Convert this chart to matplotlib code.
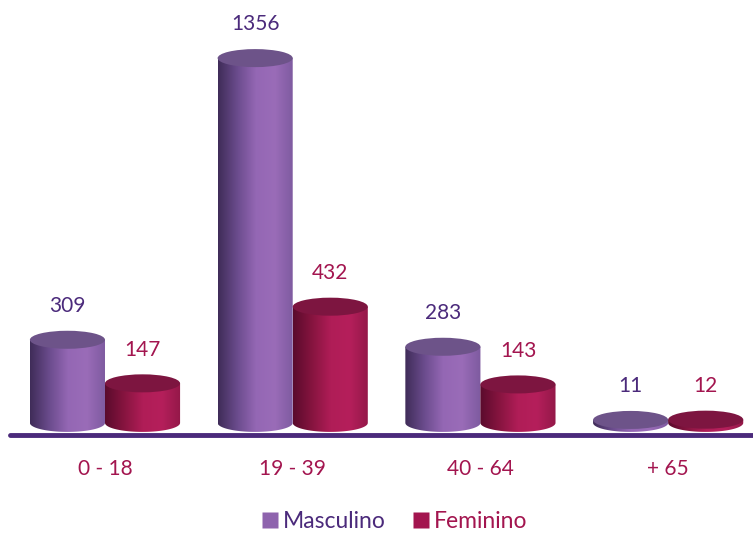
import numpy as np
import matplotlib.pyplot as plt
from matplotlib.patches import Ellipse, PathPatch
from matplotlib.path import Path
from matplotlib.colors import LinearSegmentedColormap
from matplotlib.lines import Line2D

categories = ["0 - 18", "19 - 39", "40 - 64", "+ 65"]
masculino = [309, 1356, 283, 11]
feminino = [147, 432, 143, 12]
series_names = ["Masculino", "Feminino"]

PURPLE_TXT = "#4b2a7b"
CRIMSON_TXT = "#a3154f"
purple_cmap = LinearSegmentedColormap.from_list(
    "p", ["#3f2c58", "#6a4b8c", "#9467b4", "#9a6cb8", "#7d5a9f"])
crimson_cmap = LinearSegmentedColormap.from_list(
    "c", ["#5a0b2c", "#86143f", "#b01d57", "#b51f5b", "#931848"])
top_colors = ["#6d5389", "#7d1540"]
side_cmaps = [purple_cmap, crimson_cmap]
txt_colors = [PURPLE_TXT, CRIMSON_TXT]

plt.rcParams["font.family"] = ["Lato", "DejaVu Sans"]

fig = plt.figure(figsize=(7.53, 5.34), dpi=100)
ax = fig.add_axes([10 / 753, 99 / 534, 743 / 753, 435 / 534])
ax.set_xlim(-0.506, 3.452)
ax.set_ylim(-45, 1572)

bw = 0.4
eh = 67  # ellipse height in data units (perspective)
grad = np.linspace(0, 1, 256).reshape(1, -1)

def cylinder(xc, h, cmap, top_color):
    x0, x1 = xc - bw / 2, xc + bw / 2
    t = np.linspace(np.pi, 2 * np.pi, 60)
    bottom = np.column_stack([xc + bw / 2 * np.cos(t), eh / 2 * np.sin(t)])
    verts = np.vstack([[x0, h], bottom, [x1, h], [x0, h]])
    codes = [Path.MOVETO] + [Path.LINETO] * (len(verts) - 2) + [Path.CLOSEPOLY]
    clip = PathPatch(Path(verts, codes), facecolor="none", edgecolor="none")
    ax.add_patch(clip)
    im = ax.imshow(grad, cmap=cmap, aspect="auto",
                   extent=[x0, x1, -eh / 2, h], zorder=2)
    im.set_clip_path(clip)
    ax.add_patch(Ellipse((xc, h), bw, eh, facecolor=top_color,
                         edgecolor="none", zorder=3))

x = np.arange(len(categories))
for s, values in enumerate([masculino, feminino]):
    for i, v in enumerate(values):
        xc = x[i] - bw / 2 + s * bw
        cylinder(xc, v, side_cmaps[s], top_colors[s])
        ax.text(xc, v + 125, str(v), ha="center", va="center",
                fontsize=15, color=txt_colors[s])

for side in ["top", "right", "left"]:
    ax.spines[side].set_visible(False)
ax.spines["bottom"].set_color(PURPLE_TXT)
ax.spines["bottom"].set_linewidth(3.5)
ax.spines["bottom"].set_capstyle("round")
ax.set_yticks([])
ax.set_xticks(x)
ax.set_xticklabels(categories)
ax.tick_params(axis="x", length=0, pad=17, labelsize=15, labelcolor=CRIMSON_TXT)

handles = [Line2D([], [], marker="s", linestyle="none", markersize=11,
                  markerfacecolor=c, markeredgecolor="none")
           for c in ["#8e63ad", "#a3154f"]]
leg = fig.legend(handles, series_names, loc="center", ncol=2,
                 bbox_to_anchor=(393 / 753, 12 / 534), frameon=False,
                 fontsize=16.5, handletextpad=0.1, columnspacing=1.0,
                 handlelength=1.0)
for t, c in zip(leg.get_texts(), txt_colors):
    t.set_color(c)

fig.savefig("out.png", dpi=100)
